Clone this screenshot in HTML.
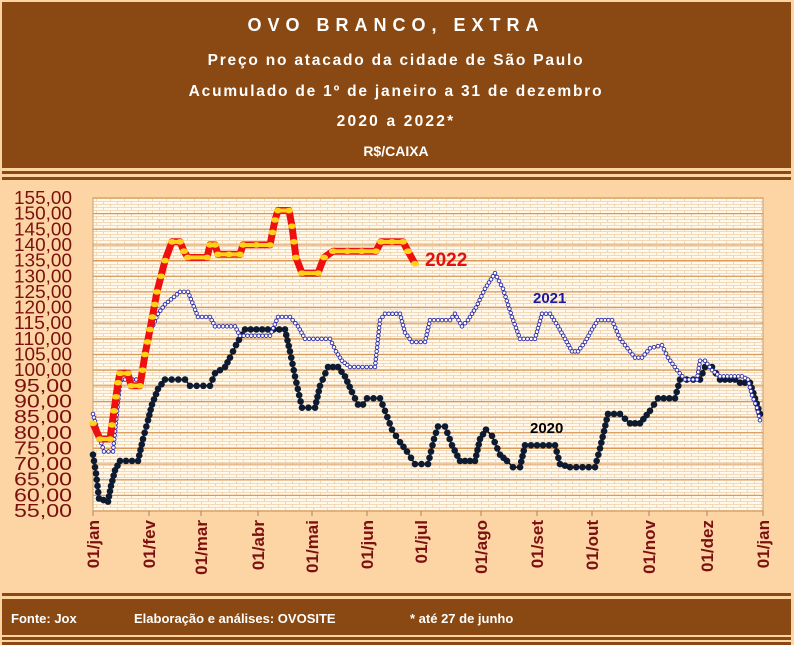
<!DOCTYPE html>
<html><head><meta charset="utf-8"><style>
html,body{margin:0;padding:0}
body{width:794px;height:645px;background:#fff;overflow:hidden;font-family:"Liberation Sans",sans-serif}
</style></head><body>
<svg id="s" width="794" height="645" xmlns="http://www.w3.org/2000/svg" style="position:absolute;left:0;top:0">
<defs>
<pattern id="brick" x="93" y="198" width="14" height="6" patternUnits="userSpaceOnUse">
<rect width="14" height="6" fill="#fff8ec"/>
<path d="M0 0.5H14M0 3.5H14M3.5 0.5V3.5M10.5 3.5V6.5" stroke="#efcfa6" stroke-width="0.8" fill="none"/>
</pattern>
</defs>
<rect x="0" y="0" width="794" height="645" fill="#fdd4a3"/>
<rect x="2" y="2" width="789" height="166" fill="#8a4912"/>
<rect x="2" y="171" width="789" height="3" fill="#8a4912"/>
<rect x="2" y="177" width="789" height="3" fill="#8a4912"/>
<rect x="2" y="593" width="789" height="3" fill="#8a4912"/>
<rect x="2" y="599" width="789" height="36" fill="#8a4912"/>
<rect x="2" y="637" width="789" height="3" fill="#8a4912"/>
<rect x="2" y="642" width="789" height="3" fill="#8a4912"/>
<g fill="#fff" font-weight="bold" text-anchor="middle" font-family="Liberation Sans,sans-serif">
<text x="396" y="31" font-size="18" letter-spacing="6">OVO BRANCO, EXTRA</text>
<text x="396" y="65" font-size="15.5" letter-spacing="1.8">Preço no atacado da cidade de São Paulo</text>
<text x="396" y="96" font-size="15.5" letter-spacing="1.8">Acumulado de 1º de janeiro a 31 de dezembro</text>
<text x="396" y="126" font-size="15.5" letter-spacing="2.2">2020 a 2022*</text>
<text x="396" y="156" font-size="14">R$/CAIXA</text>
</g>
<rect x="93" y="198" width="670" height="313" fill="url(#brick)" stroke="#c8a070" stroke-width="1"/>
<g id="grid"></g>
<g id="ylab" fill="#7a1010" font-size="18" text-anchor="end" font-family="Liberation Sans,sans-serif"></g>
<g id="xlab" fill="#7a1010" font-size="17" font-weight="bold" text-anchor="end" font-family="Liberation Sans,sans-serif"></g>
<g id="series"></g>
<text x="425" y="266" fill="#e41010" font-size="19" font-weight="bold">2022</text>
<text x="533" y="303" fill="#1a1aa0" font-size="15" font-weight="bold">2021</text>
<text x="530" y="433" fill="#000" font-size="15" font-weight="bold">2020</text>
<g fill="#fff" font-size="13" font-weight="bold" font-family="Liberation Sans,sans-serif">
<text x="11" y="623">Fonte: Jox</text>
<text x="134" y="623">Elaboração e  análises: OVOSITE</text>
<text x="410" y="623">* até 27 de junho</text>
</g>
</svg>
<script>
var NS="http://www.w3.org/2000/svg";
function el(t,a,p){var e=document.createElementNS(NS,t);for(var k in a)e.setAttribute(k,a[k]);(p||document.getElementById("series")).appendChild(e);return e;}
function Y(v){return 511-(v-55)*3.13;}
var g=document.getElementById("grid"),yl=document.getElementById("ylab"),xl=document.getElementById("xlab");
for(var v=55;v<=155;v+=5){
 el("line",{x1:93,x2:763,y1:Y(v),y2:Y(v),stroke:"#d99a58","stroke-width":1.2},g);
 var t=el("text",{x:72,y:Y(v)+6,textLength:58,lengthAdjust:"spacingAndGlyphs"},yl);t.textContent=v+",00";
}
var mx=[93,149,201,258,312,367,421,481,537,592,649,707,763];
var mn=["jan","fev","mar","abr","mai","jun","jul","ago","set","out","nov","dez","jan"];
for(var i=0;i<mx.length;i++){
 el("line",{x1:mx[i],x2:mx[i],y1:511,y2:516,stroke:"#b08060"},g);
 var t=el("text",{x:0,y:0,transform:"translate("+(mx[i]+6)+",520) rotate(-90)"},xl);t.textContent="01/"+mn[i];
}
function steps(a){return a.map(function(q){return [q[0],Y(q[1])];});}
function dense(p,s){var o=[];for(var i=0;i<p.length-1;i++){var dx=p[i+1][0]-p[i][0],dy=p[i+1][1]-p[i][1];var n=Math.max(1,Math.round(Math.hypot(dx,dy)/s));for(var k=0;k<n;k++)o.push([p[i][0]+dx*k/n,p[i][1]+dy*k/n]);}o.push(p[p.length-1]);return o;}
var d22=[[93,83],[100,78],[110,78],[118,96],[120,99],[128,99],[131,95],[140,95],[145,105],[150,113],[157,125],[165,135],[172,141],[180,141],[184,138],[188,136],[207,136],[210,140],[215,140],[218,137],[240,137],[243,140],[270,140],[275,148],[278,151],[289,151],[292,146],[296,136],[302,131],[318,131],[324,136],[333,138],[376,138],[381,141],[403,141],[408,138],[415,134]];
var d21=[[93,86],[100,78],[104,74],[113,74],[120,96],[125,97],[140,97],[150,112],[158,118],[165,121],[180,125],[188,125],[198,117],[210,117],[215,114],[235,114],[240,111],[270,111],[278,117],[290,117],[298,114],[305,110],[330,110],[336,106],[342,103],[350,101],[375,101],[380,116],[385,118],[400,118],[405,112],[412,109],[425,109],[430,116],[450,116],[455,118],[462,114],[468,116],[476,120],[485,126],[495,131],[503,126],[512,117],[520,110],[535,110],[542,118],[550,118],[558,114],[565,110],[572,106],[578,106],[585,109],[592,113],[598,116],[612,116],[620,110],[630,106],[635,104],[642,104],[650,107],[662,108],[668,104],[677,100],[685,97],[697,97],[700,103],[705,103],[712,100],[720,98],[742,98],[748,97],[752,92],[757,88],[760,84]];
var d20=[[93,73],[96,67],[99,59],[108,58],[111,63],[115,68],[120,71],[138,71],[143,78],[148,84],[152,89],[158,94],[165,97],[185,97],[190,95],[210,95],[215,99],[225,101],[230,104],[236,108],[245,113],[285,113],[290,106],[295,98],[302,88],[315,88],[320,95],[328,101],[338,101],[345,98],[352,93],[358,89],[363,89],[367,91],[380,91],[385,87],[392,81],[400,77],[407,74],[415,70],[428,70],[434,78],[438,82],[445,82],[452,76],[460,71],[475,71],[480,78],[486,81],[492,79],[500,73],[507,71],[513,69],[520,69],[525,76],[555,76],[560,70],[570,69],[595,69],[600,75],[608,86],[620,86],[630,83],[640,83],[650,87],[658,91],[675,91],[680,97],[700,97],[705,101],[712,101],[720,97],[735,97],[740,96],[750,96],[755,91],[760,86]];
function pts(p){return p.map(function(q){return q[0].toFixed(1)+","+q[1].toFixed(1)}).join(" ");}
var p20=steps(d20),p21=steps(d21),p22=steps(d22);
el("polyline",{points:pts(p20),fill:"none",stroke:"#000","stroke-width":1.5});
dense(p20,6).forEach(function(q){el("circle",{cx:q[0],cy:q[1],r:3.3,fill:"#0d1a30"});});
el("polyline",{points:pts(p21),fill:"none",stroke:"#1a1aa0","stroke-width":1.2});
dense(p21,4).forEach(function(q){el("circle",{cx:q[0],cy:q[1],r:1.8,fill:"#fff",stroke:"#2a2aa8","stroke-width":0.9});});
el("polyline",{points:pts(p22),fill:"none",stroke:"#ee1010","stroke-width":7,"stroke-linejoin":"round"});
for(var i=0;i<p22.length-1;i++){var a=p22[i],b=p22[i+1];if(Math.abs(a[1]-b[1])<1){el("line",{x1:a[0]+2,y1:a[1],x2:b[0]-2,y2:b[1],stroke:"#ffd21a","stroke-width":4,"stroke-linecap":"round"});}}
dense(p22,14).forEach(function(q){el("ellipse",{cx:q[0],cy:q[1],rx:4,ry:2.8,fill:"#ffd21a"});});
</script>
</body></html>
